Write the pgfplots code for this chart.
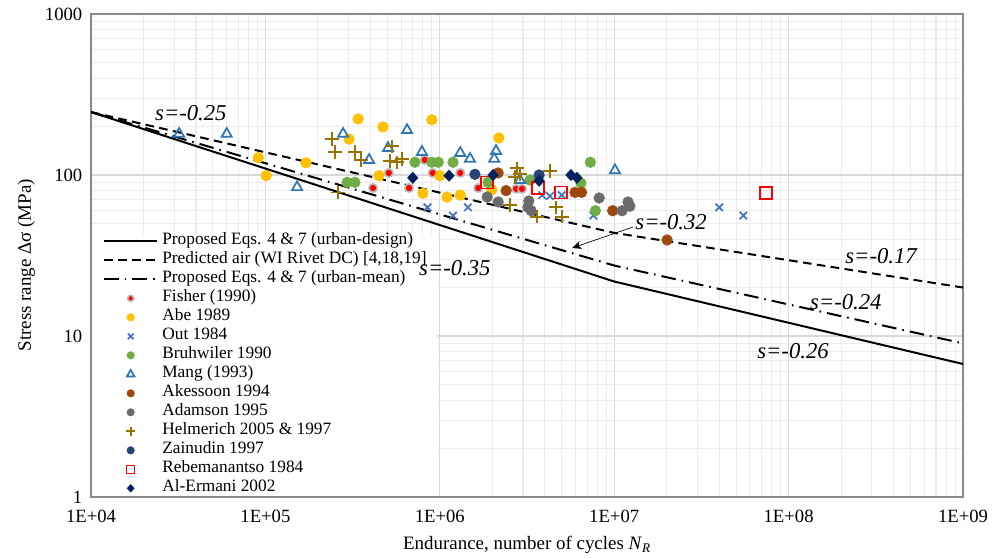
\documentclass[border=0pt]{standalone}
\usepackage{fontspec}
\setmainfont{Liberation Serif}
\usepackage{pgfplots}
\pgfplotsset{compat=1.18}
\usetikzlibrary{arrows.meta}

\definecolor{abe}{HTML}{FFC000}
\definecolor{outc}{HTML}{4472C4}
\definecolor{bruh}{HTML}{70AD47}
\definecolor{mang}{HTML}{2E75B6}
\definecolor{akes}{HTML}{9E480E}
\definecolor{adam}{HTML}{6B6B6B}
\definecolor{helm}{HTML}{997300}
\definecolor{zain}{HTML}{264478}
\definecolor{erm}{HTML}{002060}
\definecolor{gridmaj}{HTML}{D9D9D9}
\definecolor{gridmin}{HTML}{ECECEC}
\definecolor{frame}{HTML}{898989}

\begin{document}
\begin{tikzpicture}
\begin{axis}[
  at={(0,0)}, anchor=south west,
  scale only axis, width=654pt, height=362.25pt,
  xmode=log, ymode=log,
  xmin=1e4, xmax=1e9, ymin=1, ymax=1000,
  xtick={1e4,1e5,1e6,1e7,1e8,1e9},
  xticklabels={1E+04,1E+05,1E+06,1E+07,1E+08,1E+09},
  ytick={1,10,100,1000}, yticklabels={1,10,100,1000},
  minor xtick={2e4,3e4,4e4,5e4,6e4,7e4,8e4,9e4,2e5,3e5,4e5,5e5,6e5,7e5,8e5,9e5,
               2e6,3e6,4e6,5e6,6e6,7e6,8e6,9e6,2e7,3e7,4e7,5e7,6e7,7e7,8e7,9e7,
               2e8,3e8,4e8,5e8,6e8,7e8,8e8,9e8},
  minor ytick={2,3,4,5,6,7,8,9,20,30,40,50,60,70,80,90,200,300,400,500,600,700,800,900},
  grid=both,
  major grid style={draw=gridmaj, line width=0.9pt},
  minor grid style={draw=gridmin, line width=0.8pt},
  major tick length=0pt, minor tick length=0pt,
  axis line style={draw=frame, line width=1.1pt},
  tick label style={font=\fontsize{14}{16}\selectfont},
  xticklabel style={yshift=-6pt},
  yticklabel style={xshift=-3pt},
  xlabel={Endurance, number of cycles \textit{N}\textsubscript{\textit{R}}},
  ylabel={Stress range Δσ (MPa)},
  xlabel style={at={(axis description cs:0.5,-0.1)}, anchor=center, font=\fontsize{14.2}{16}\selectfont},
  ylabel style={at={(axis description cs:-0.074,0.48)}, anchor=center, font=\fontsize{14.2}{16}\selectfont},
  legend image code/.code={\draw[mark repeat=2,mark phase=2,#1] plot coordinates {(0pt,0pt)(20pt,0pt)(40pt,0pt)};},
  legend cell align=left,
  legend style={at={(0,0)}, anchor=south west, xshift=0.8pt, yshift=0.8pt,
    draw=none, fill=white, font=\fontsize{13}{15}\selectfont,
    inner xsep=8pt, inner ysep=0pt, row sep=3.25pt,
    nodes={inner sep=0pt, text height=8pt, text depth=3pt},
    /tikz/every odd column/.style={column sep=3pt}},
]
% lines
\addplot[black, line width=1.5pt] coordinates {(1e4,246) (1e7,21.8) (1e9,6.7)};
\addlegendentry{Proposed Eqs. 4 \& 7 (urban-design)}
\addplot[black, line width=1.5pt, dash pattern=on 6.5pt off 4pt] coordinates {(1e4,246) (1e7,43.7) (1e9,20)};
\addlegendentry{Predicted air (WI Rivet DC) [4,18,19]}
\addplot[black, line width=1.5pt, dash pattern=on 11pt off 4.5pt on 1.2pt off 4.5pt] coordinates {(1e4,246) (1e7,27.4) (1e9,9.0)};
\addlegendentry{Proposed Eqs. 4 \& 7 (urban-mean)}

% Fisher (1990)
\addplot[only marks, mark=*, mark size=3.1pt, mark options={fill=red, draw=gray!55, line width=1.2pt},
  legend image post style={mark size=2.3pt}] coordinates {
(4.14e5,83) (5.1e5,103) (6.66e5,83) (8.2e5,124) (9.1e5,103) (1.31e6,103) (1.66e6,83) (2.74e6,82) (2.96e6,82)};
\addlegendentry{Fisher (1990)}
% Abe 1989
\addplot[only marks, mark=*, mark size=4pt, mark options={fill=abe, draw=abe},
  legend image post style={mark size=2.8pt}] coordinates {
(9.1e4,128) (1.01e5,99) (1.71e5,119) (3.02e5,167) (3.4e5,223) (4.72e5,199) (4.48e5,99) (8.0e5,77)
(9.0e5,220) (1.0e6,99) (1.1e6,73) (1.31e6,75) (1.99e6,81) (2.18e6,170)};
\addlegendentry{Abe 1989}
% Out 1984
\addplot[only marks, mark=x, mark size=3.9pt, mark options={draw=outc, line width=1.3pt},
  legend image post style={mark size=3pt}] coordinates {
(8.5e5,63) (1.19e6,56) (1.45e6,63) (3.86e6,75) (4.28e6,74) (5.0e6,75) (7.6e6,56) (4.0e7,63) (5.5e7,56)};
\addlegendentry{Out 1984}
% Bruhwiler 1990
\addplot[only marks, mark=*, mark size=4pt, mark options={fill=bruh, draw=bruh},
  legend image post style={mark size=2.8pt}] coordinates {
(2.94e5,90) (3.26e5,90) (7.2e5,120) (9.0e5,120) (9.8e5,120) (1.19e6,120) (1.89e6,90) (3.29e6,93)
(6.45e6,89) (7.3e6,120) (7.8e6,60)};
\addlegendentry{Bruhwiler 1990}
% Mang (1993)
\addplot[only marks, mark=triangle, mark size=4.4pt, mark options={draw=mang, line width=1.3pt},
  legend image post style={mark size=3.3pt}] coordinates {
(3.2e4,180) (6.0e4,180) (1.52e5,84) (2.79e5,180) (3.93e5,124) (5.05e5,147) (6.49e5,190) (7.9e5,139)
(1.31e6,137) (1.49e6,126) (2.05e6,126) (2.1e6,141) (2.88e6,93) (1.01e7,107)};
\addlegendentry{Mang (1993)}
% Akessoon 1994
\addplot[only marks, mark=*, mark size=4pt, mark options={fill=akes, draw=akes},
  legend image post style={mark size=2.8pt}] coordinates {
(2.16e6,103) (2.4e6,80) (5.96e6,78) (6.5e6,78) (9.8e6,60) (2.01e7,39.5)};
\addlegendentry{Akessoon 1994}
% Adamson 1995
\addplot[only marks, mark=*, mark size=4pt, mark options={fill=adam, draw=adam},
  legend image post style={mark size=2.8pt}] coordinates {
(1.87e6,73) (2.16e6,68) (3.24e6,69) (3.2e6,63) (3.34e6,60) (8.2e6,72) (1.11e7,60) (1.2e7,68) (1.23e7,64)};
\addlegendentry{Adamson 1995}
% Helmerich 2005 & 1997
\addplot[only marks, mark=+, mark size=5pt, mark options={draw=helm, line width=1.3pt},
  legend image post style={mark size=3.2pt}] coordinates {
(2.41e5,167) (2.51e5,139) (3.26e5,139) (3.53e5,124) (2.61e5,78) (5.32e5,151) (5.18e5,122) (5.68e5,120)
(6.07e5,126) (2.77e6,110) (2.88e6,101) (2.7e6,97) (4.28e6,106) (2.53e6,65) (3.61e6,55) (4.63e6,63) (5.02e6,55)};
\addlegendentry{Helmerich 2005 \& 1997}
% Zainudin 1997
\addplot[only marks, mark=*, mark size=4pt, mark options={fill=zain, draw=zain},
  legend image post style={mark size=2.8pt}] coordinates {
(1.59e6,101) (3.71e6,100)};
\addlegendentry{Zainudin 1997}
% Rebemanantso 1984
\addplot[only marks, mark=square, mark size=4.5pt, mark options={draw=red, line width=1.2pt},
  legend image post style={mark size=3pt}] coordinates {
(1.87e6,90) (3.66e6,83) (4.95e6,78) (7.4e7,77)};
\addlegendentry{Rebemanantso 1984}
% Al-Ermani 2002
\addplot[only marks, mark=diamond*, mark size=4.2pt, mark options={fill=erm, draw=erm, xscale=1.25},
  legend image post style={mark size=2.8pt}] coordinates {
(7.0e5,96) (1.13e6,99) (2.02e6,100) (3.71e6,92) (5.65e6,100) (6.12e6,96)};
\addlegendentry{Al-Ermani 2002}

% anchor points for slope labels (drawn after the legend)
\coordinate (s25) at (axis cs:3.74e4,243);
\coordinate (s35) at (axis cs:1.22e6,26.4);
\coordinate (s32) at (axis cs:2.12e7,51);
\coordinate (s17) at (axis cs:3.39e8,31.4);
\coordinate (s24) at (axis cs:2.13e8,16.3);
\coordinate (s26) at (axis cs:1.06e8,8.07);
\coordinate (a1) at (axis cs:1.28e7,47.5);
\coordinate (a2) at (axis cs:5.73e6,35.2);
\end{axis}
\begin{scope}[every node/.style={font=\fontsize{17}{19}\selectfont\itshape}]
\node at (s25) {s=-0.25};
\node at (s35) {s=-0.35};
\node at (s32) {s=-0.32};
\node at (s17) {s=-0.17};
\node at (s24) {s=-0.24};
\node at (s26) {s=-0.26};
\end{scope}
\draw[-{Stealth[length=7pt,width=6pt,inset=2pt]}, line width=0.5pt] (a1) -- (a2);
\pgfresetboundingbox
\path (-68.25pt,-45.75pt) rectangle (681.75pt,372.75pt);
\end{tikzpicture}
\end{document}
